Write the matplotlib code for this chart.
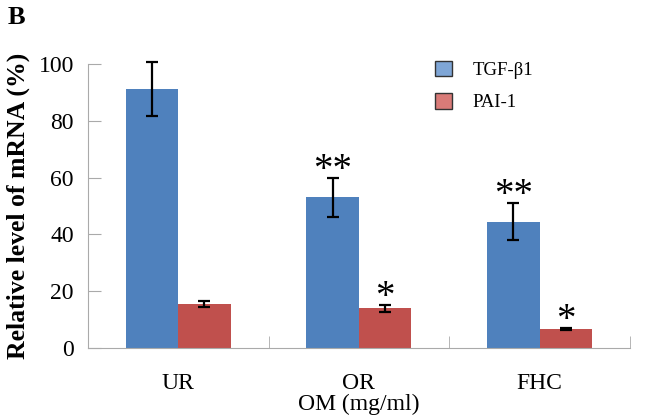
import numpy as np
import matplotlib.pyplot as plt
from matplotlib.patches import Patch

categories = ["UR", "OR", "FHC"]
tgf_values = [91.0, 53.0, 44.5]
tgf_errors = [9.5, 7.0, 6.5]
pai_values = [15.5, 14.0, 6.8]
pai_errors = [1.2, 1.3, 0.3]
tgf_marks = ["", "**", "**"]
pai_marks = ["", "*", "*"]

BLUE = "#4F81BD"
RED = "#C0504D"

plt.rcParams["font.family"] = ["Liberation Serif", "DejaVu Serif"]

fig = plt.figure(figsize=(6.46, 4.19), dpi=100)
ax = fig.add_axes([0.136, 0.1695, 0.839, 0.678])

x = np.arange(len(categories))
w = 0.29
err_kw = dict(ecolor="black", elinewidth=1.6, capsize=4, capthick=1.6)
ax.bar(x - w / 2, tgf_values, w, color=BLUE, yerr=tgf_errors, error_kw=err_kw, zorder=2)
ax.bar(x + w / 2, pai_values, w, color=RED, yerr=pai_errors, error_kw=err_kw, zorder=2)
for art in ax.lines + ax.collections:
    art.set_clip_on(False)

for i in range(len(categories)):
    if tgf_marks[i]:
        ax.text(x[i] - w / 2, tgf_values[i] + tgf_errors[i] - 4, tgf_marks[i],
                ha="center", va="bottom", fontsize=28)
    if pai_marks[i]:
        ax.text(x[i] + w / 2, pai_values[i] + pai_errors[i] - 4, pai_marks[i],
                ha="center", va="bottom", fontsize=28)

ax.set_xlim(-0.5, len(categories) - 0.5)
ax.set_ylim(0, 100)
ax.set_yticks([0, 20, 40, 60, 80, 100])
ax.set_xticks(np.arange(len(categories) + 1) - 0.5, minor=True)
ax.set_xticks(x)
ax.set_xticklabels(categories)
ax.tick_params(axis="x", which="major", length=0, pad=18, labelsize=17)
ax.tick_params(axis="x", which="minor", direction="in", length=9, color="#AAAAAA")
ax.tick_params(axis="y", direction="in", length=9, color="#AAAAAA", labelsize=17, pad=10)

for side in ["top", "right"]:
    ax.spines[side].set_visible(False)
for side in ["left", "bottom"]:
    ax.spines[side].set_color("#AAAAAA")

ax.set_xlabel("OM (mg/ml)", fontsize=17, labelpad=0)
ax.set_ylabel("Relative level of mRNA (%)", fontsize=18.5, fontweight="bold", labelpad=6)

handles = [Patch(facecolor="#7FA6D6", edgecolor="#333333", label="TGF-β1"),
           Patch(facecolor="#D97B78", edgecolor="#333333", label="PAI-1")]
ax.legend(handles=handles, loc="upper left", bbox_to_anchor=(0.61, 1.07), frameon=False,
          fontsize=13.5, handlelength=0.9, handleheight=0.9, handletextpad=1.1, labelspacing=0.75)

fig.text(0.012, 0.985, "B", fontsize=19, fontweight="bold", va="top")

fig.savefig("out.png", dpi=100)
